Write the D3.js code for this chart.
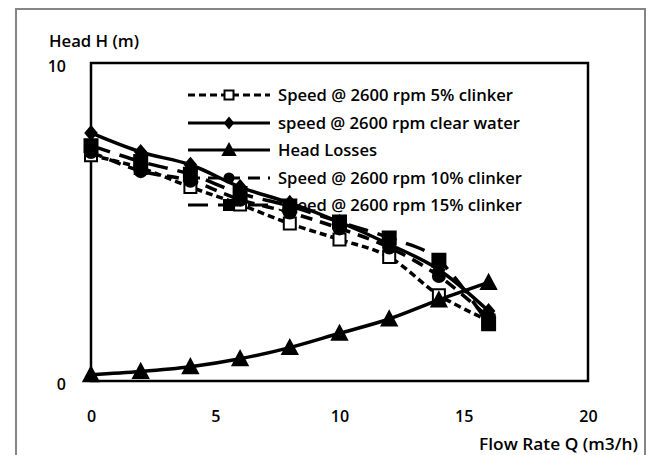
<!DOCTYPE html>
<html>
<head>
<meta charset="utf-8">
<script src="https://cdn.jsdelivr.net/npm/d3@7"></script>
<style>
  body { margin: 0; background: #fff; }
  text { font-family: "Open Sans", "Liberation Sans", sans-serif; font-weight: 600; fill: #000; }
</style>
</head>
<body>
<div id="chart"></div>
<script>
// data
var flow = [0, 2, 4, 6, 8, 10, 12, 14, 16];
var clinker5 = [7.1, 6.7, 6.1, 5.55, 4.95, 4.45, 3.9, 2.7, 1.9];
var clearWater = [7.8, 7.2, 6.8, 6.1, 5.6, 5.0, 4.3, 3.5, 2.2];
var headLosses = [0.2, 0.3, 0.45, 0.7, 1.05, 1.5, 1.95, 2.55, 3.1];
var clinker10 = [7.2, 6.6, 6.3, 5.7, 5.3, 4.8, 4.2, 3.3, 2.0];
var clinker15 = [7.4, 6.9, 6.5, 5.9, 5.5, 5.0, 4.5, 3.8, 1.8];
var xTicks = [0, 5, 10, 15, 20];
var yTicks = [0, 10];
var seriesNames = [
    "Speed @ 2600 rpm 5% clinker",
    "speed @ 2600 rpm clear water",
    "Head Losses",
    "Speed @ 2600 rpm 10% clinker",
    "Speed @ 2600 rpm 15% clinker"
];

var W = 647, H = 455;
var margin = { top: 63, right: 59, bottom: 74, left: 91 },
    width = W - margin.left - margin.right,
    height = H - margin.top - margin.bottom;

var svg = d3.select("#chart")
    .append("svg")
    .attr("width", W)
    .attr("height", H);

// outer chart frame
svg.append("rect")
    .attr("x", 16).attr("y", 9)
    .attr("width", 629).attr("height", 460)
    .attr("fill", "none")
    .attr("stroke", "#858585")
    .attr("stroke-width", 2);

var g = svg.append("g")
    .attr("transform", "translate(" + margin.left + "," + margin.top + ")");

var x = d3.scaleLinear().domain([0, 20]).range([0, width]);
var y = d3.scaleLinear().domain([0, 10]).range([height, 0]);

// plot border
g.append("rect")
    .attr("width", width).attr("height", height)
    .attr("fill", "none")
    .attr("stroke", "#000")
    .attr("stroke-width", 2.5);

// axes (labels only, Excel style)
var xAxis = g.append("g")
    .attr("transform", "translate(0," + height + ")")
    .call(d3.axisBottom(x).tickValues(xTicks).tickSize(0).tickPadding(38));
xAxis.select(".domain").remove();
xAxis.selectAll("text").attr("font-size", 16).attr("dy", "0.2em")
    .style("font-family", "'Open Sans', sans-serif").style("font-weight", 600);

var yAxis = g.append("g")
    .call(d3.axisLeft(y).tickValues(yTicks).tickSize(0).tickPadding(25));
yAxis.select(".domain").remove();
yAxis.selectAll("text").attr("font-size", 16).attr("dy", "0.5em")
    .style("font-family", "'Open Sans', sans-serif").style("font-weight", 600);

svg.append("text")
    .attr("x", 49).attr("y", 47)
    .attr("font-size", 16)
    .attr("textLength", 90)
    .attr("lengthAdjust", "spacingAndGlyphs")
    .text("Head H (m)");

svg.append("text")
    .attr("x", 479).attr("y", 450)
    .attr("font-size", 17)
    .attr("textLength", 159)
    .attr("lengthAdjust", "spacingAndGlyphs")
    .text("Flow Rate Q (m3/h)");

// series styles
var styles = [
    { values: clinker5, dash: "7,4", marker: "square", fill: "#fff", size: 12 },
    { values: clearWater, dash: null, marker: "diamond", fill: "#000", size: 11 },
    { values: headLosses, dash: null, marker: "triangle", fill: "#000", size: 13 },
    { values: clinker10, dash: "12,8", marker: "circle", fill: "#000", size: 12 },
    { values: clinker15, dash: "20,10", marker: "square", fill: "#000", size: 13 }
];

function markerPath(type, s) {
    var h = s / 2;
    if (type === "square") return "M" + (-h) + "," + (-h) + "h" + s + "v" + s + "h" + (-s) + "Z";
    if (type === "diamond") return "M0," + (-h - 1) + "L" + h + ",0L0," + (h + 1) + "L" + (-h) + ",0Z";
    if (type === "triangle") return "M0," + (-h - 1) + "L" + (h + 1) + "," + (h) + "L" + (-h - 1) + "," + (h) + "Z";
    return d3.symbol().type(d3.symbolCircle).size(s * s * 0.8)();
}

// legend (drawn under the data, as in the original)
var legend = svg.append("g");
var legendY = [95, 123, 150, 178, 205];
var legendW = [235, 242, 99, 244, 244];
styles.forEach(function (s, i) {
    var ly = legendY[i];
    legend.append("line")
        .attr("x1", 188).attr("x2", 270)
        .attr("y1", ly).attr("y2", ly)
        .attr("stroke", "#000")
        .attr("stroke-width", 3.2)
        .attr("stroke-dasharray", s.dash);
    legend.append("path")
        .attr("d", markerPath(s.marker, s.size - 3))
        .attr("transform", "translate(229," + ly + ")")
        .attr("fill", s.fill)
        .attr("stroke", "#000")
        .attr("stroke-width", 2);
    legend.append("text")
        .attr("x", 278).attr("y", ly + 6)
        .attr("font-size", 17)
        .attr("textLength", legendW[i])
        .attr("lengthAdjust", "spacingAndGlyphs")
        .text(seriesNames[i]);
});

var line = d3.line()
    .x(function (d) { return x(d[0]); })
    .y(function (d) { return y(d[1]); })
    .curve(d3.curveCardinal.tension(0));

styles.forEach(function (s) {
    var pts = flow.map(function (f, i) { return [f, s.values[i]]; });
    g.append("path")
        .datum(pts)
        .attr("d", line)
        .attr("fill", "none")
        .attr("stroke", "#000")
        .attr("stroke-width", 3.5)
        .attr("stroke-dasharray", s.dash);
    g.selectAll(null)
        .data(pts)
        .enter()
        .append("path")
        .attr("d", markerPath(s.marker, s.size))
        .attr("transform", function (d) { return "translate(" + x(d[0]) + "," + y(d[1]) + ")"; })
        .attr("fill", s.fill)
        .attr("stroke", "#000")
        .attr("stroke-width", 2);
});
</script>
</body>
</html>
